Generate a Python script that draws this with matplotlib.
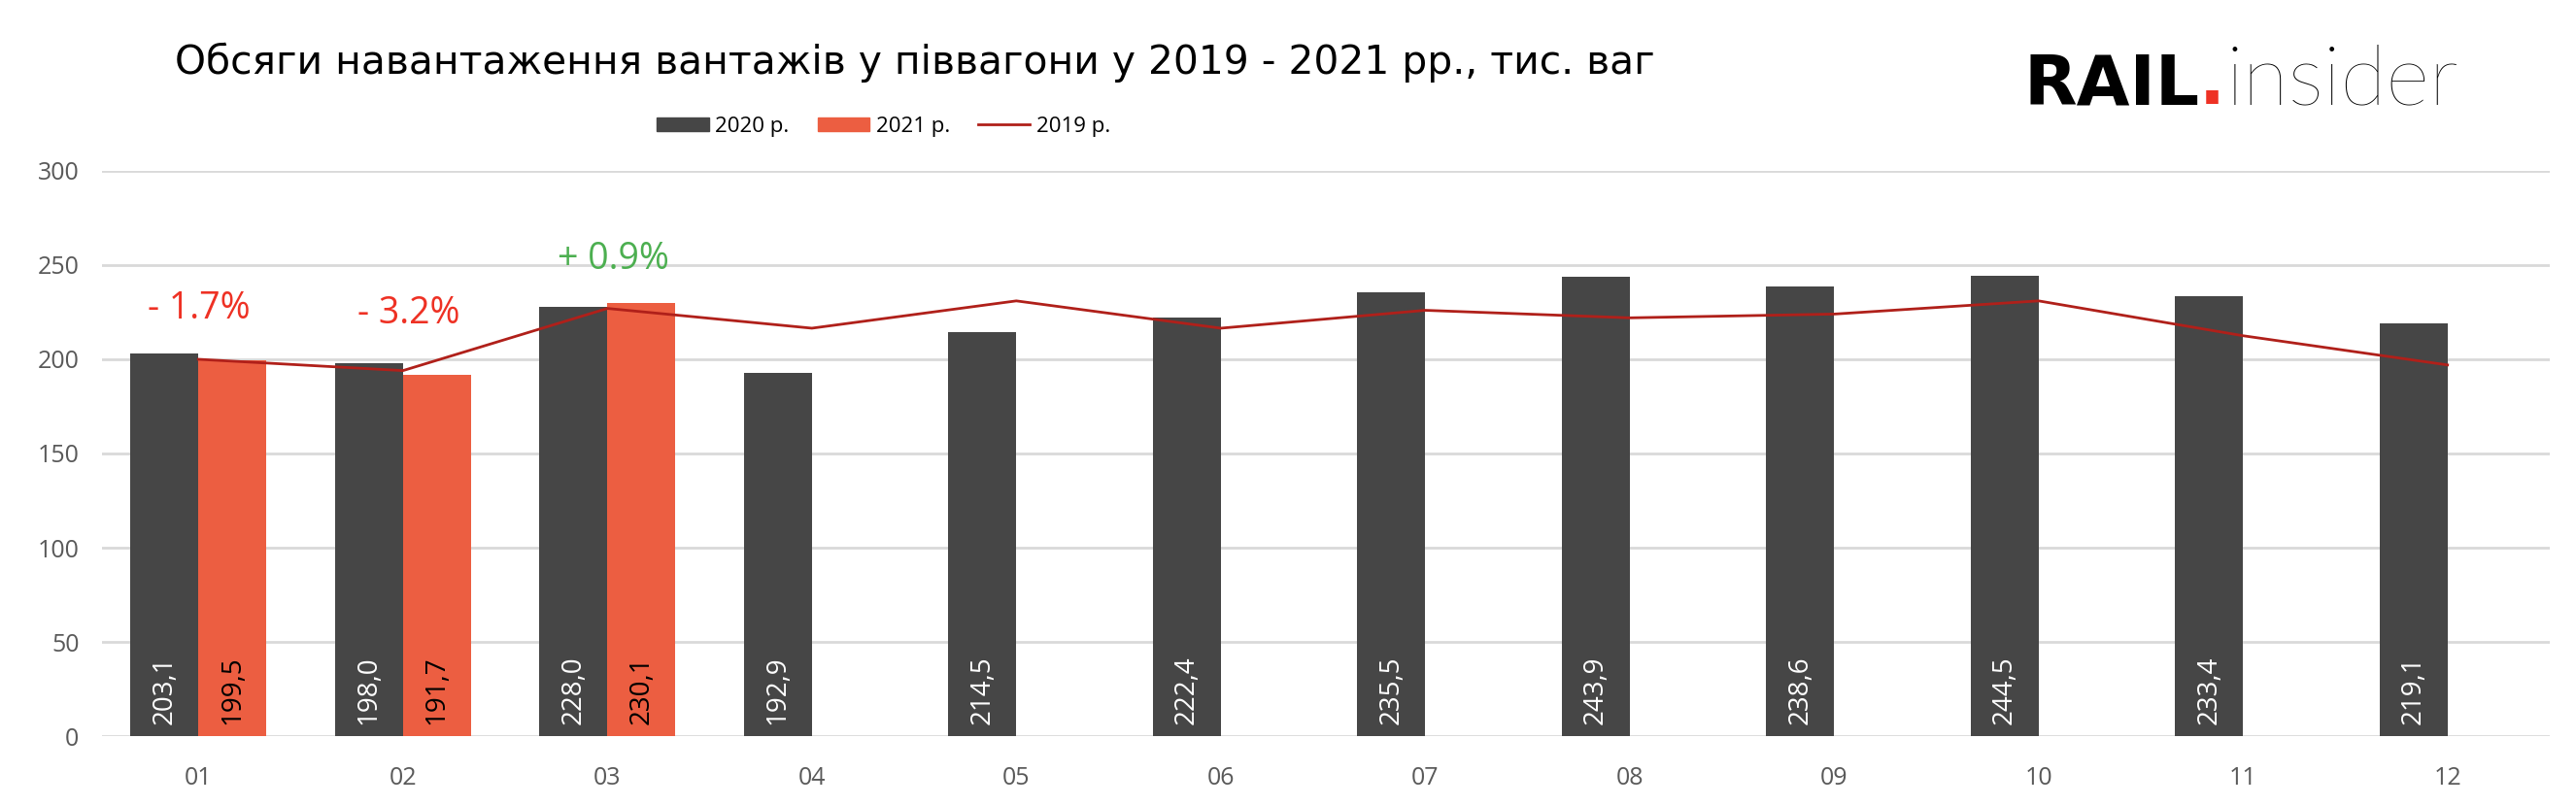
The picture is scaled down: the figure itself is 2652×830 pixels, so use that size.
import matplotlib
matplotlib.use("Agg")
import matplotlib.pyplot as plt
from matplotlib.patches import Patch
from matplotlib.lines import Line2D
import numpy as np

months = ["01", "02", "03", "04", "05", "06", "07", "08", "09", "10", "11", "12"]
vals_2020 = [203.1, 198.0, 228.0, 192.9, 214.5, 222.4, 235.5, 243.9, 238.6, 244.5, 233.4, 219.1]
vals_2021 = [199.5, 191.7, 230.1]
vals_2019 = [200.0, 194.0, 227.0, 216.5, 231.0, 216.5, 226.0, 222.0, 224.0, 231.0, 212.5, 197.0]
labels_2020 = ["203,1", "198,0", "228,0", "192,9", "214,5", "222,4", "235,5", "243,9", "238,6", "244,5", "233,4", "219,1"]
labels_2021 = ["199,5", "191,7", "230,1"]
change_text = ["- 1.7%", "- 3.2%", "+ 0.9%"]
change_y = [227, 224, 253]

DARK = "#464646"
ORANGE = "#EC5E41"
LINE = "#B0201A"
RED = "#EE3124"
GREEN = "#4CAF50"
FONT = ["Open Sans", "DejaVu Sans"]

plt.rcParams["font.family"] = FONT

fig = plt.figure(figsize=(26.52, 8.3), dpi=100)
ax = fig.add_axes([0.0396, 0.0867, 0.9502, 0.7013])

x = np.arange(len(months))
w = 0.333
ax.bar(x - w / 2, vals_2020, width=w, color=DARK, zorder=2)
x21 = x[:len(vals_2021)]
ax.bar(x21 + w / 2, vals_2021, width=w, color=ORANGE, zorder=2)
ax.plot(x, vals_2019, color=LINE, lw=2, zorder=3)

for xi, lab in zip(x, labels_2020):
    ax.text(xi - w / 2, 6, lab, rotation=90, ha="center", va="bottom",
            color="white", fontsize=20, zorder=4)
for xi, lab in zip(x21, labels_2021):
    ax.text(xi + w / 2, 6, lab, rotation=90, ha="center", va="bottom",
            color="black", fontsize=20, zorder=4)

for i, (t, yv) in enumerate(zip(change_text, change_y)):
    col = GREEN if t.startswith("+") else RED
    ax.text(x[i] + (0.03 if i else 0), yv, t, ha="center", va="center",
            color=col, fontsize=27, zorder=5)

ax.set_xlim(-0.472, 11.5)
ax.set_ylim(0, 300)
ax.set_yticks(range(0, 301, 50))
ax.set_xticks(x)
ax.set_xticklabels(months)
ax.yaxis.grid(True, color="#D9D9D9", lw=2, zorder=0)
ax.set_axisbelow(True)
for s in ax.spines.values():
    s.set_visible(False)
ax.tick_params(axis="both", length=0, labelsize=18, labelcolor="#595959")
ax.tick_params(axis="x", pad=22)
ax.tick_params(axis="y", pad=17)

handles = [Patch(color=DARK), Patch(color=ORANGE), Line2D([], [], color=LINE, lw=2)]
fig.legend(handles, ["2020 р.", "2021 р.", "2019 р."], loc="center",
           bbox_to_anchor=(0.343, 0.843), ncol=3, frameon=False, fontsize=16,
           handlelength=2.4, handleheight=0.6, columnspacing=1.3, handletextpad=0.3)

fig.text(0.068, 0.923, "Обсяги навантаження вантажів у піввагони у 2019 - 2021 рр., тис. ваг",
         fontsize=29.3, va="center", ha="left", color="black",
         family=["DejaVu Sans"])

# logo
fig.canvas.draw()
r = fig.canvas.get_renderer()
base = 1 - 107 / 830
t1 = fig.text(2083 / 2652, base, "RAIL", fontsize=51, fontweight="bold", color="black",
              family=["DejaVu Sans"], va="baseline")
bb = t1.get_window_extent(r)
t2 = fig.text(bb.x1 / fig.bbox.width, base, ".", fontsize=51, fontweight="bold", color=RED,
              family=["DejaVu Sans"], va="baseline")
bb2 = t2.get_window_extent(r)
fig.text(bb2.x1 / fig.bbox.width, base, "insider", fontsize=62, fontweight="light",
         color="black", family=["Lato", "DejaVu Sans"], va="baseline")

fig.savefig("out.png", dpi=100, facecolor="white")
